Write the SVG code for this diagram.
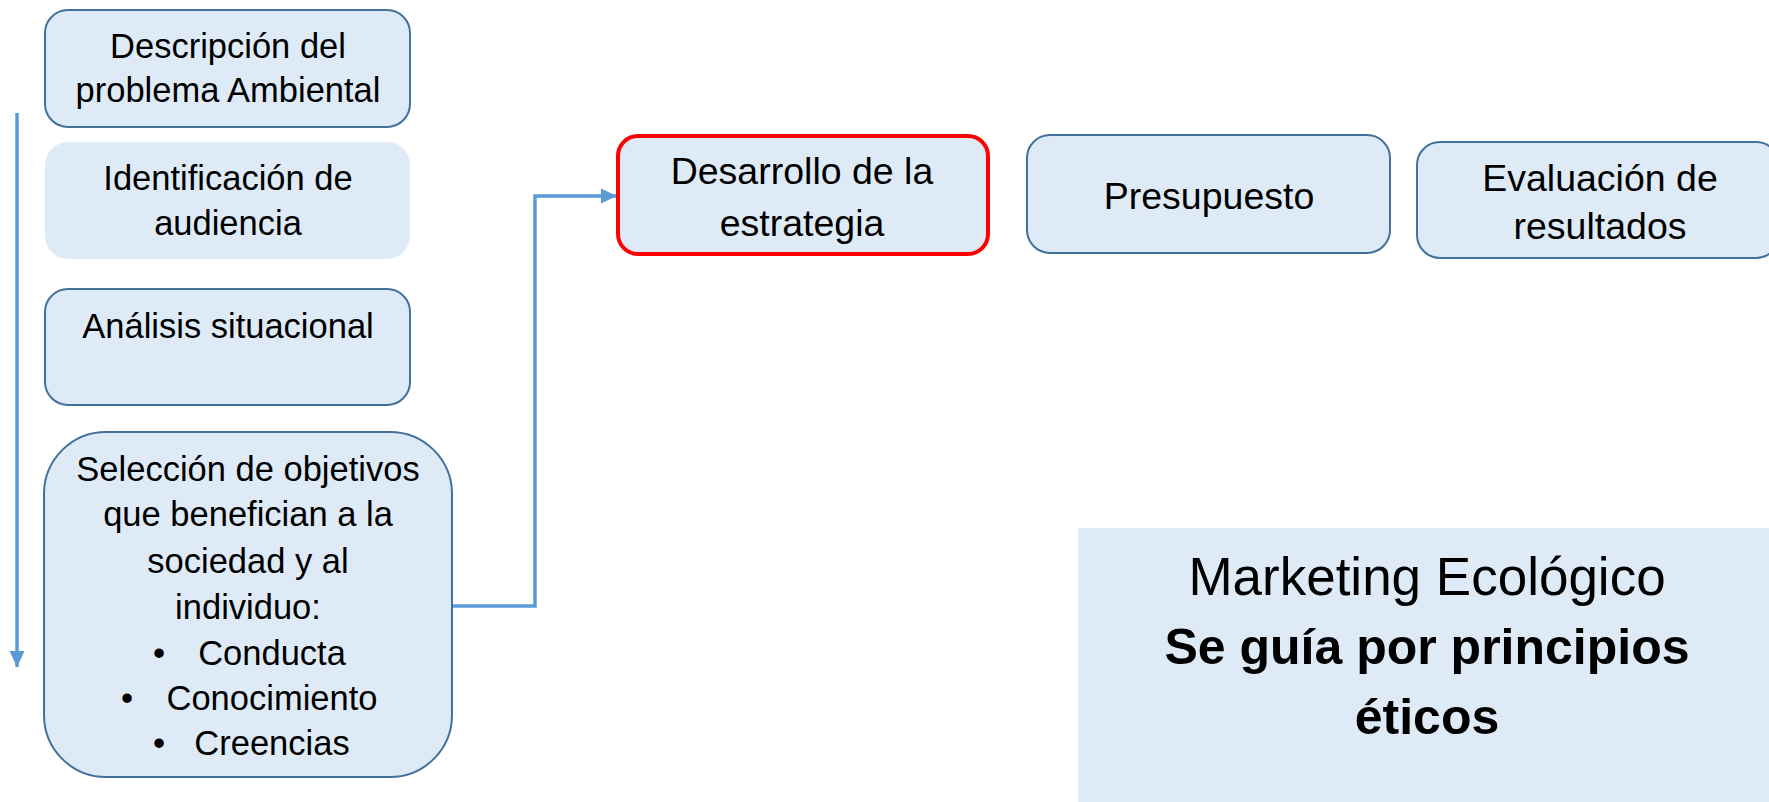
<svg xmlns="http://www.w3.org/2000/svg" width="1769" height="802" viewBox="0 0 1769 802">
<style>
.box{fill:#DEEBF7;stroke:#41719C;stroke-width:2}
.plain{fill:#DEEBF7;stroke:none}
.red{fill:#DEEBF7;stroke:#FF0000;stroke-width:4}
.t{font-family:"Liberation Sans",Arial,sans-serif;fill:#000;text-anchor:middle}
.l{font-size:34.5px}
.r{font-size:37.5px}
.m{font-size:53px}
.b{font-size:50px;font-weight:bold}
.conn{fill:none;stroke:#5B9BD5;stroke-width:3.5}
</style>
<defs>
<marker id="arr" markerUnits="userSpaceOnUse" markerWidth="17" markerHeight="16" refX="16" refY="8" orient="auto">
<path d="M0,0.5 L16,8 L0,15.5 Z" fill="#5B9BD5"/>
</marker>
</defs>
<rect width="1769" height="802" fill="#FFFFFF"/>
<g id="connectors">
<path class="conn" d="M17,113 V667" marker-end="url(#arr)"/>
<path class="conn" d="M452,606 H535 V196 H617" marker-end="url(#arr)"/>
</g>
<g id="descripcion">
<rect class="box" x="45" y="10" width="365" height="117" rx="23"/>
<text class="t l" x="228" y="58">Descripción del</text>
<text class="t l" x="228" y="102">problema Ambiental</text>
</g>
<g id="identificacion">
<rect class="plain" x="45" y="142" width="365" height="117" rx="23"/>
<text class="t l" x="228" y="190">Identificación de</text>
<text class="t l" x="228" y="235">audiencia</text>
</g>
<g id="analisis">
<rect class="box" x="45" y="289" width="365" height="116" rx="23"/>
<text class="t l" x="228" y="338">Análisis situacional</text>
</g>
<g id="seleccion">
<rect class="box" x="44" y="432" width="408" height="345" rx="62"/>
<text class="t l" x="248" y="481">Selección de objetivos</text>
<text class="t l" x="248" y="526">que benefician a la</text>
<text class="t l" x="248" y="573">sociedad y al</text>
<text class="t l" x="248" y="619">individuo:</text>
<text class="t l" x="159" y="665">•</text>
<text class="t l" x="272" y="665">Conducta</text>
<text class="t l" x="127" y="710">•</text>
<text class="t l" x="272" y="710">Conocimiento</text>
<text class="t l" x="159" y="755">•</text>
<text class="t l" x="272" y="755">Creencias</text>
</g>
<g id="desarrollo">
<rect class="red" x="618" y="136" width="370" height="118" rx="20"/>
<text class="t r" x="802" y="184">Desarrollo de la</text>
<text class="t r" x="802" y="236">estrategia</text>
</g>
<g id="presupuesto">
<rect class="box" x="1027" y="135" width="363" height="118" rx="23"/>
<text class="t r" x="1209" y="209">Presupuesto</text>
</g>
<g id="evaluacion">
<rect class="box" x="1417" y="142" width="362" height="116" rx="23"/>
<text class="t r" x="1600" y="191">Evaluación de</text>
<text class="t r" x="1600" y="239">resultados</text>
</g>
<g id="marketing">
<rect class="plain" x="1078" y="528" width="691" height="274"/>
<text class="t m" x="1427" y="595">Marketing Ecológico</text>
<text class="t b" x="1427" y="664">Se guía por principios</text>
<text class="t b" x="1427" y="734">éticos</text>
</g>
</svg>
